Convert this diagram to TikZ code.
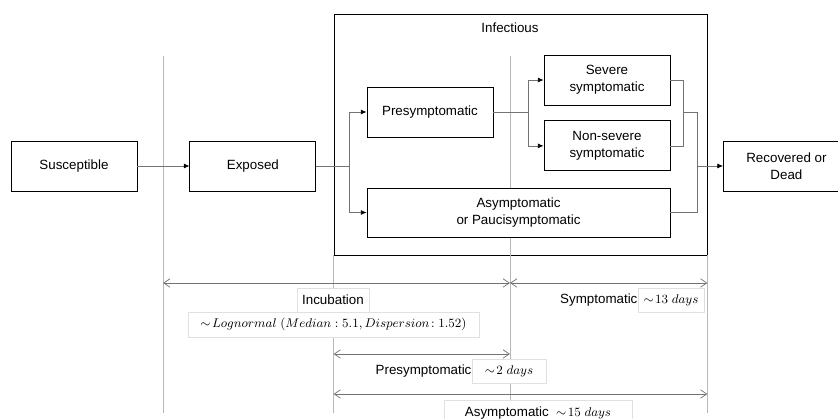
\documentclass[tikz,border=0pt]{standalone}
\usepackage{fontspec}
\setmainfont{Liberation Sans}
\usetikzlibrary{arrows.meta, positioning}

\begin{document}
\begin{tikzpicture} [
						x=0.025cm, y=-0.025cm,
						font=\fontsize{9.5}{12}\selectfont,
						box/.style={draw, fill=white, line width=0.6pt, minimum width=3.15cm, minimum height=1.25cm, align=center, inner sep=2pt},
						tag/.style={draw=black!12, fill=white, line width=0.4pt, minimum height=0.6cm, inner xsep=3.5pt},
						guide/.style={draw=black!28, line width=0.4pt},
						span/.style={draw=black!55, line width=0.5pt, {Straight Barb[length=4.5pt, width=6pt]}-{Straight Barb[length=4.5pt, width=6pt]}},
						flow/.style={draw=black!55, line width=0.5pt},
						tip/.style={-{Latex[black, length=4pt, width=3.5pt]}}
					]

\useasboundingbox (0,0) rectangle (838,419);

% infectious compartment
\node (inf) [draw, line width=0.6pt, inner sep=0pt, minimum width=9.325cm, minimum height=6.025cm] at (520.5,134.5) {};
\node (inftxt) at (510,28) {Infectious};

% time guides
\coordinate (g1) at (163,56);
\coordinate (g2) at (inf.south west);
\coordinate (g3) at (510,56);
\coordinate (g4) at (inf.south east);
\draw[guide] (g1) -- (g1 |- 0,413);
\draw[guide] (g2) -- (g2 |- 0,413);
\draw[guide] (g3) -- (g3 |- 0,413);
\draw[guide] (g4) -- (g4 |- 0,413);

\draw[span] (g1 |- 0,283) -- (g3 |- 0,283);
\draw[span] (g3 |- 0,283) -- (g4 |- 0,283);
\draw[span] (g2 |- 0,354) -- (g3 |- 0,354);
\draw[span] (g2 |- 0,394) -- (g4 |- 0,394);

\node (inc) [tag, minimum width=1.8cm] at (333,300) {Incubation};
\node (dist) [tag, minimum width=7.275cm, minimum height=0.625cm] at (333.5,324.5) {$\sim\!Lognormal\ (Median: 5.1, Dispersion\!: 1.52)$};
\node (symd) [tag, minimum width=1.65cm] at (671,300) {$\sim\!13\ days$};
\node (sym) [left=0pt of symd, inner sep=0pt] {Symptomatic};
\node (pred) [tag, minimum width=1.85cm] at (509,371) {$\sim\!2\ days$};
\node (pre2) [left=0pt of pred, inner sep=0pt] {Presymptomatic};
\node (asyd) [tag, minimum width=4.7cm, minimum height=0.65cm] at (538,413) {Asymptomatic\ \ $\sim\!15\ days$};

% compartments
\node (sus) [box] at (74,166) {Susceptible};
\node (exp) [box, right=1.3cm of sus] {Exposed};
\node (pre) [box] at (430,112) {Presymptomatic};
\node (sev) [box] at (607,80) {Severe\\symptomatic};
\node (non) [box, below=0.375cm of sev] {Non-severe\\symptomatic};
\node (asy) [box, minimum width=7.575cm, minimum height=1.225cm] at (518.5,212.5) {Asymptomatic\\or Paucisymptomatic};

\coordinate (b1) at (349,166);
\coordinate (b2) at (528,112);
\coordinate (m1) at (683,112.5);
\coordinate (m2) at (697,166);
\node (rec) [box, right=0.65cm of m2] {Recovered or\\Dead};

\draw[flow, tip] (sus) -- (exp);
\draw[flow] (exp) -- (b1);
\draw[flow, tip] (b1) |- (pre);
\draw[flow, tip] (b1) |- (asy);
\draw[flow] (pre) -- (b2);
\draw[flow, tip] (b2) |- (sev);
\draw[flow, tip] (b2) |- (non);
\draw[flow] (sev.east) -| (m1);
\draw[flow] (non.east) -| (m1);
\draw[flow] (m1) -| (m2);
\draw[flow] (asy.east) -| (m2);
\draw[flow, tip] (m2) -- (rec);
\end{tikzpicture}
\end{document}
